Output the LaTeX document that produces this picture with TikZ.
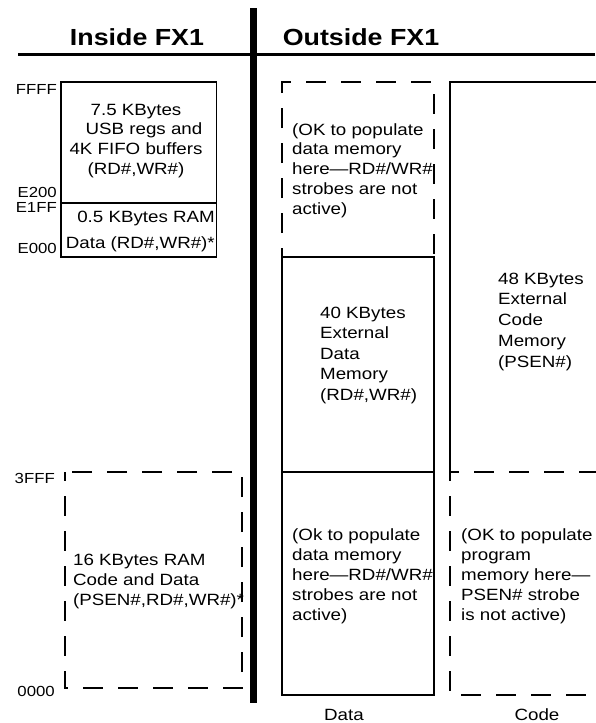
\documentclass[tikz,border=0pt]{standalone}
\usepackage{fontspec}
\setmainfont{Liberation Sans}[FakeStretch=1.15]

\begin{document}
\begin{tikzpicture}[x=1pt, y=-1pt,
  box/.style={line width=1.8pt},
  dashbox/.style={line width=1.8pt, dash pattern=on 20pt off 15pt, dash phase=11pt},
  memtext/.style={inner sep=0pt, align=left, anchor=base west, font=\fontsize{16.3}{#1}\selectfont},
  memtext/.default=19.8,
  addr/.style={inner sep=0pt, anchor=base east, font=\fontsize{14.6}{18}\selectfont},
  heading/.style={inner sep=0pt, anchor=base, font=\bfseries\fontsize{23.3}{28}\selectfont}]

  \useasboundingbox (0,0) rectangle (595,723);

  % headings and the two halves
  \node[heading] (inside) at (137,45) {Inside FX1};
  \node[heading] (outside) at (361,45) {Outside FX1};
  \draw[line width=3.5pt] (18,54.5) -- (595,54.5);
  \draw[line width=6.7pt] (253.3,8) -- (253.3,703);

  % inside FX1 (base anchor = last line)
  \draw[box] (61,82) rectangle (216.5,257);
  \draw[box] (61,203) -- (216.5,203);
  \draw[dashbox] (65,472) rectangle (242,688);

  \node[addr] (ffff) at (57,94) {FFFF};
  \node[addr] (e200) at (57,197) {E200};
  \node[addr] (e1ff) at (57,212.5) {E1FF};
  \node[addr] (e000) at (57,253.5) {E000};
  \node[addr] (x3fff) at (55,483) {3FFF};
  \node[addr] (x0000) at (55,696.5) {0000};

  \node[memtext, align=center, anchor=base] (usbregs) at (136,174.4) {7.5 KBytes\\\hspace*{16pt}USB regs and\\4K FIFO buffers\\(RD\#,WR\#)};
  \node[memtext, align=right, anchor=base east] (ramdata) at (215,248) {0.5 KBytes RAM\\[6pt]Data (RD\#,WR\#)*};
  \node[memtext=20] (ramcode) at (73,605) {16 KBytes RAM\\Code and Data\\(PSEN\#,RD\#,WR\#)*};

  % outside FX1: data column
  \draw[dashbox] (282,257) -- (282,82) -- (434,82) -- (434,257);
  \draw[box] (282,257) rectangle (434,695);
  \draw[box] (282,472) -- (434,472);

  \node[memtext] (datahigh) at (292,214.2) {(OK to populate\\data memory\\here—RD\#/WR\#\\strobes are not\\active)};
  \node[memtext=20.5] (extdata) at (320,400) {40 KBytes\\External\\Data\\Memory\\(RD\#,WR\#)};
  \node[memtext=20] (datalow) at (292,620) {(Ok to populate\\data memory\\here—RD\#/WR\#\\strobes are not\\active)};

  % outside FX1: code column
  \draw[box] (596,82) -- (450,82) -- (450,472);
  \draw[dashbox] (450,472) -- (450,695) -- (596,695);
  \draw[dashbox] (450,472) -- (596,472);

  \node[memtext=20.8] (extcode) at (498,367.2) {48 KBytes\\External\\Code\\Memory\\(PSEN\#)};
  \node[memtext=20] (codelow) at (461,620) {(OK to populate\\program\\memory here—\\PSEN\# strobe\\is not active)};

  \node[memtext, anchor=base] (datalabel) at (344,720) {Data};
  \node[memtext, anchor=base] (codelabel) at (537,720) {Code};

\end{tikzpicture}
\end{document}
